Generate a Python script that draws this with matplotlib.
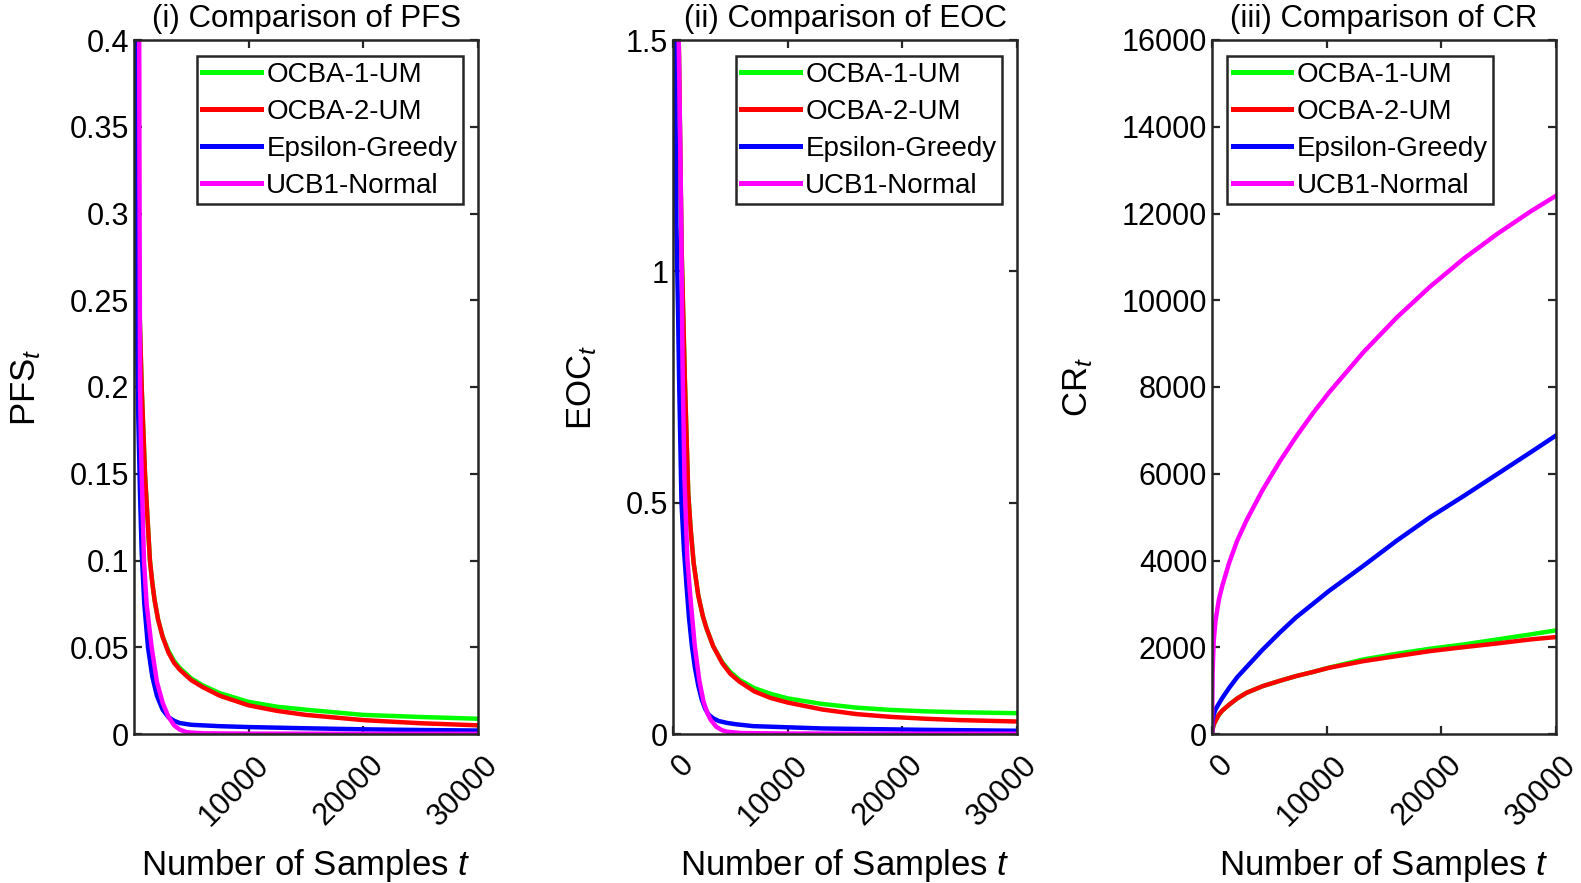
import matplotlib
matplotlib.use('Agg')
import matplotlib.pyplot as plt
import matplotlib.transforms as mtransforms
from matplotlib.ticker import FuncFormatter

plt.rcParams['font.family'] = ['Liberation Sans', 'DejaVu Sans']
plt.rcParams['mathtext.fontset'] = 'custom'
plt.rcParams['mathtext.rm'] = 'Liberation Sans'
plt.rcParams['mathtext.it'] = 'Liberation Sans:italic'

labels = ['OCBA-1-UM', 'OCBA-2-UM', 'Epsilon-Greedy', 'UCB1-Normal']
colors = ['#00ff00', '#ff0000', '#0000ff', '#ff00ff']

# (i) PFS
pfs_t_ocba = [200, 300, 360, 460, 670, 960, 1390, 1600, 1800, 2100, 2500, 3000, 3500, 4000, 5000, 6000, 7500,
              10000, 12500, 15000, 20000, 25000, 30000]
pfs_ocba1 = [0.50, 0.40, 0.32, 0.25, 0.20, 0.15, 0.10, 0.087, 0.077, 0.066, 0.056, 0.048, 0.042, 0.038, 0.032, 0.028,
             0.0235, 0.0185, 0.0157, 0.014, 0.011, 0.0098, 0.0088]
pfs_ocba2 = [0.50, 0.40, 0.32, 0.25, 0.20, 0.15, 0.10, 0.087, 0.077, 0.066, 0.056, 0.047, 0.041, 0.037, 0.031, 0.027,
             0.022, 0.0165, 0.0133, 0.011, 0.008, 0.0062, 0.0050]
pfs_t_eg = [30, 100, 200, 350, 520, 670, 900, 1220, 1600, 2000, 2500, 3000, 3500, 4000, 5000, 7500, 10000, 15000,
            20000, 25000, 30000]
pfs_eg = [0.50, 0.36, 0.26, 0.19, 0.14, 0.105, 0.075, 0.05, 0.033, 0.022, 0.014, 0.0097, 0.0076, 0.0063, 0.0053,
          0.0045, 0.004, 0.0033, 0.0027, 0.0023, 0.002]
pfs_t_ucb = [440, 470, 500, 530, 600, 670, 870, 1100, 1540, 2000, 2500, 3000, 3500, 4000, 4600, 6000, 10000, 30000]
pfs_ucb = [0.45, 0.35, 0.27, 0.20, 0.17, 0.15, 0.10, 0.075, 0.05, 0.03, 0.018, 0.01, 0.005, 0.0025, 0.001, 0.0004,
           0.0002, 0.0001]

# (ii) EOC
eoc_t_ocba = [300, 500, 750, 1030, 1330, 1550, 1800, 2200, 2600, 2900, 3500, 4300, 5000, 5800, 7100, 8500, 10000,
              13000, 16000, 19000, 22000, 25000, 30000]
eoc_ocba1 = [2.0, 1.5, 1.05, 0.77, 0.52, 0.44, 0.37, 0.30, 0.255, 0.23, 0.19, 0.155, 0.134, 0.117, 0.099, 0.087,
             0.077, 0.065, 0.057, 0.052, 0.049, 0.047, 0.045]
eoc_ocba2 = [2.0, 1.5, 1.05, 0.77, 0.52, 0.44, 0.37, 0.30, 0.255, 0.23, 0.19, 0.153, 0.13, 0.113, 0.092, 0.078,
             0.068, 0.053, 0.043, 0.037, 0.033, 0.030, 0.027]
eoc_t_eg = [50, 170, 300, 450, 530, 740, 950, 1180, 1400, 1650, 1900, 2200, 2500, 2800, 3100, 3500, 4000, 4700,
            5500, 7000, 13000, 22000, 30000]
eoc_eg = [2.0, 1.5, 1.1, 0.9, 0.77, 0.5, 0.4, 0.32, 0.25, 0.19, 0.145, 0.105, 0.075, 0.055, 0.042, 0.034, 0.028,
          0.024, 0.021, 0.017, 0.012, 0.009, 0.007]
eoc_t_ucb = [300, 500, 700, 830, 1000, 1250, 1500, 1900, 2300, 2660, 3000, 3300, 3800, 4300, 4700, 6000, 10000, 30000]
eoc_ucb = [1.8, 1.5, 1.15, 0.8, 0.55, 0.38, 0.30, 0.19, 0.115, 0.07, 0.045, 0.03, 0.015, 0.008, 0.005, 0.002,
           0.001, 0.0005]

# (iii) CR
cr_t = [0, 50, 150, 300, 600, 900, 1500, 2200, 3000, 4400, 5900, 7300, 8800, 10200, 13200, 16100, 19000, 22000,
        24900, 27800, 30000]
cr_ocba1 = [0, 110, 216, 300, 447, 540, 678, 820, 948, 1102, 1225, 1333, 1430, 1530, 1719, 1850, 1965, 2066, 2181,
            2297, 2389]
cr_ocba2 = [0, 110, 216, 300, 447, 540, 678, 820, 948, 1102, 1225, 1333, 1430, 1526, 1680, 1796, 1911, 2004, 2089,
            2181, 2235]
cr_eg = [0, 300, 450, 563, 700, 832, 1064, 1310, 1540, 1940, 2335, 2682, 3000, 3298, 3877, 4455, 4994, 5495, 5996,
         6497, 6882]
cr_ucb = [0, 1400, 2140, 2600, 3100, 3420, 3950, 4460, 4920, 5620, 6280, 6840, 7395, 7871, 8801, 9599, 10309,
          10969, 11534, 12050, 12409]

panels = [
    ('(i) Comparison of PFS', r'PFS$_{t}$',
     [(pfs_t_ocba, pfs_ocba1), (pfs_t_ocba, pfs_ocba2), (pfs_t_eg, pfs_eg), (pfs_t_ucb, pfs_ucb)],
     (0, 0.4), [0, 0.05, 0.1, 0.15, 0.2, 0.25, 0.3, 0.35, 0.4], (1, 30000), [10000, 20000, 30000],
     'upper right'),
    ('(ii) Comparison of EOC', r'EOC$_{t}$',
     [(eoc_t_ocba, eoc_ocba1), (eoc_t_ocba, eoc_ocba2), (eoc_t_eg, eoc_eg), (eoc_t_ucb, eoc_ucb)],
     (0, 1.5), [0, 0.5, 1, 1.5], (0, 30000), [0, 10000, 20000, 30000],
     'upper right'),
    ('(iii) Comparison of CR', r'CR$_{t}$',
     [(cr_t, cr_ocba1), (cr_t, cr_ocba2), (cr_t, cr_eg), (cr_t, cr_ucb)],
     (0, 16000), list(range(0, 16001, 2000)), (0, 30000), [0, 10000, 20000, 30000],
     'upper left'),
]

W, H = 1581, 883
fig = plt.figure(figsize=(W / 100, H / 100), dpi=100)
lefts = [134, 673, 1212]
axc = '#262626'
shift = mtransforms.ScaledTranslation(16 / 100, 0, fig.dpi_scale_trans)

for left, (title, ylab, series, ylim, yticks, xlim, xticks, loc) in zip(lefts, panels):
    ax = fig.add_axes([left / W, 1 - 734 / H, 344 / W, 694 / H])
    for (t, v), c, lab in zip(series, colors, labels):
        ax.plot(t, v, color=c, lw=3.2, label=lab)
    ax.set_xlim(*xlim)
    ax.set_ylim(*ylim)
    ax.set_xticks(xticks)
    ax.set_yticks(yticks)
    ax.yaxis.set_major_formatter(FuncFormatter(lambda v, p: '%g' % v))
    ax.tick_params(direction='in', top=True, right=True, length=6, width=1.6,
                   labelsize=22, colors=axc, labelcolor='black')
    ax.tick_params(axis='x', pad=19)
    for lbl in ax.get_xticklabels():
        lbl.set_rotation(45)
        lbl.set_ha('right')
        lbl.set_va('center')
        lbl.set_rotation_mode('anchor')
        lbl.set_transform(lbl.get_transform() + shift)
    for sp in ax.spines.values():
        sp.set_linewidth(1.8)
        sp.set_color(axc)
    ax.set_title(title, fontsize=22.5, pad=9)
    ax.set_xlabel(r'Number of Samples $t$', fontsize=25, labelpad=11)
    ax.set_ylabel(ylab, fontsize=25, labelpad=19)
    if loc == 'upper right':
        anchor = (1 - 15 / 344, 1 - 16 / 694)
    else:
        anchor = (15 / 344, 1 - 16 / 694)
    leg = ax.legend(loc=loc, bbox_to_anchor=anchor, fontsize=20,
                    fancybox=False, framealpha=1, edgecolor=axc, handlelength=2.1,
                    handletextpad=0.2, labelspacing=0.4, borderpad=0.2,
                    borderaxespad=0)
    leg.get_frame().set_linewidth(1.8)
    for h in leg.get_lines():
        h.set_linewidth(3.6)

fig.savefig('out.png', dpi=100)
